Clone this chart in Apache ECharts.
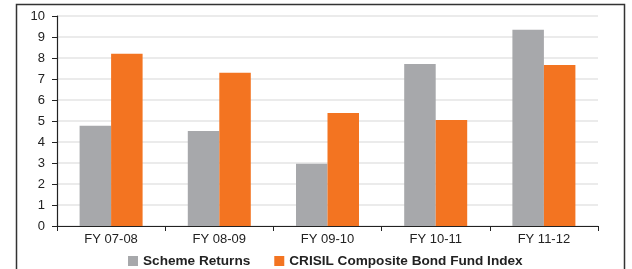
<!DOCTYPE html>
<html lang="en">
<head>
    <meta charset="UTF-8">
    <title>Scheme Returns</title>
    <script src="https://cdn.jsdelivr.net/npm/echarts@6/dist/echarts.min.js"></script>
    <style>
        html, body { margin: 0; padding: 0; background: #fff; }
    </style>
</head>
<body>
<div id="chart-container" style="width: 632px;height: 269px;"></div>
</body>
<script type="text/javascript">
    // data
    var years = ['FY 07-08', 'FY 08-09', 'FY 09-10', 'FY 10-11', 'FY 11-12'];
    var schemeReturns = [4.77, 4.52, 2.97, 7.72, 9.35];
    var crisilIndex = [8.2, 7.3, 5.38, 5.05, 7.67];
    var seriesNames = ['Scheme Returns', 'CRISIL Composite Bond Fund Index'];

    var container = document.getElementById('chart-container');
    var myChart = echarts.init(container);
    var font = 'Liberation Sans, Arial, sans-serif';

    var option = {
        animation: false,
        textStyle: { fontFamily: font },
        graphic: [
            {
                type: 'rect',
                shape: { x: 16.5, y: 4.5, width: 608, height: 290 },
                style: { fill: 'none', stroke: '#333', lineWidth: 1.5 }
            }
        ],
        grid: { left: 57, right: 34, top: 16, bottom: 43 },
        legend: {
            data: seriesNames,
            top: 249,
            left: 123,
            icon: 'rect',
            itemWidth: 10,
            itemHeight: 10,
            itemGap: 24,
            textStyle: { fontFamily: font, fontSize: 13.6, fontWeight: 'bold', color: '#222' }
        },
        xAxis: {
            type: 'category',
            data: years,
            axisLine: { lineStyle: { color: '#222', width: 1.2 } },
            axisTick: { show: true, length: 5, lineStyle: { color: '#222' } },
            axisLabel: { color: '#222', fontSize: 13, margin: 7 }
        },
        yAxis: {
            type: 'value',
            min: 0,
            max: 10,
            interval: 1,
            axisLine: { show: true, lineStyle: { color: '#222', width: 1.2 } },
            axisTick: { show: true, length: 5, lineStyle: { color: '#222' } },
            axisLabel: { color: '#222', fontSize: 13, margin: 12 },
            splitLine: { lineStyle: { color: '#e4e4e4', width: 1.5 } }
        },
        series: [
            {
                name: seriesNames[0],
                type: 'bar',
                data: schemeReturns,
                barWidth: 31.5,
                barGap: '0%',
                itemStyle: { color: '#a7a8ab' }
            },
            {
                name: seriesNames[1],
                type: 'bar',
                data: crisilIndex,
                barWidth: 31.5,
                barGap: '0%',
                itemStyle: { color: '#f37421' }
            }
        ]
    };

    myChart.setOption(option);
</script>
</html>
